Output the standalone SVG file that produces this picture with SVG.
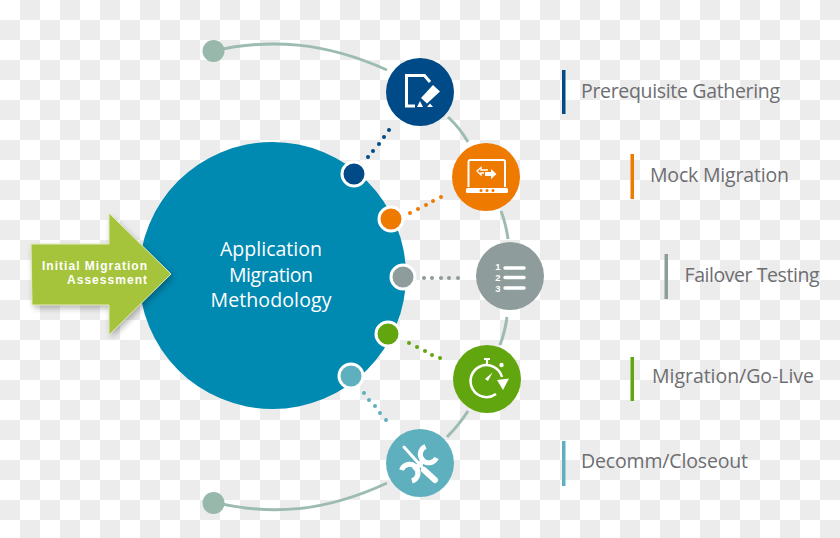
<svg xmlns="http://www.w3.org/2000/svg" width="840" height="538" viewBox="0 0 840 538">
<style>
.lbl{font-family:"Open Sans","Liberation Sans",sans-serif;font-size:19.500px;fill:#6d6e71}
.ctr{font-family:"Open Sans","Liberation Sans",sans-serif;font-size:19.500px;fill:#fff;text-anchor:middle}
.arw{font-family:"Liberation Sans",sans-serif;font-size:12px;font-weight:700;fill:#fff;text-anchor:end}
.num{font-family:"Liberation Sans",sans-serif;font-size:9.500px;font-weight:700;fill:#fff;text-anchor:middle}
.arc{fill:none;stroke:#9dbcb0;stroke-width:3}
.ico{fill:none;stroke:#fff;stroke-width:3}
.fil{fill:#fff}
.ring{stroke:#fff;stroke-width:3}
</style>
<defs>
<pattern id="chk" width="40" height="40" patternUnits="userSpaceOnUse">
<rect width="40" height="40" fill="#fff"/>
<rect x="20" width="20" height="20" fill="#ececec"/>
<rect y="20" width="20" height="20" fill="#ececec"/>
</pattern>
<filter id="shd" x="-20%" y="-20%" width="140%" height="150%">
<feGaussianBlur stdDeviation="3"/>
</filter>
</defs>
<rect width="840" height="538" fill="url(#chk)"/>

<g id="connectors">
<path class="arc" d="M213 51C270 38 325 42 387 70"/>
<path class="arc" d="M448 117Q460 128 468 142"/>
<path class="arc" d="M501 211Q506 224 508 239"/>
<path class="arc" d="M507 317Q505 332 500 345"/>
<path class="arc" d="M468 411Q459 425 447 437"/>
<path class="arc" d="M387 483C325 512 270 516 213 502"/>
<g fill="#004b87"><circle cx="389" cy="130" r="2"/><circle cx="384" cy="137" r="2"/><circle cx="379" cy="144" r="2"/><circle cx="373" cy="151" r="2"/><circle cx="368" cy="157" r="2"/></g>
<g fill="#ef7a00"><circle cx="441" cy="197" r="2"/><circle cx="433" cy="201" r="2"/><circle cx="426" cy="205" r="2"/><circle cx="418" cy="209" r="2"/><circle cx="410" cy="213" r="2"/></g>
<g fill="#8e9c9c"><circle cx="424" cy="278" r="2"/><circle cx="432" cy="278" r="2"/><circle cx="441" cy="278" r="2"/><circle cx="449" cy="278" r="2"/><circle cx="458" cy="278" r="2"/></g>
<g fill="#62a60f"><circle cx="409" cy="343" r="2"/><circle cx="417" cy="347" r="2"/><circle cx="425" cy="351" r="2"/><circle cx="432" cy="355" r="2"/><circle cx="440" cy="358" r="2"/></g>
<g fill="#5fb0be"><circle cx="364" cy="393" r="2"/><circle cx="369" cy="400" r="2"/><circle cx="375" cy="406" r="2"/><circle cx="380" cy="413" r="2"/><circle cx="386" cy="420" r="2"/></g>
</g>

<g id="end-top"><circle cx="213.500" cy="51" r="11" fill="#97b8aa"/></g>
<g id="end-bottom"><circle cx="213.500" cy="503" r="11" fill="#97b8aa"/></g>

<g id="hub">
<circle cx="272.500" cy="275.500" r="133.500" fill="#0089b1"/>
<text class="ctr" x="271" y="256" textLength="102">Application</text>
<text class="ctr" x="271" y="282" textLength="84">Migration</text>
<text class="ctr" x="271" y="307" textLength="121">Methodology</text>
</g>

<g id="assessment">
<path d="M33 247H111V217L173 277L111 338V308H34Z" fill="#000" opacity=".3" filter="url(#shd)"/>
<path d="M31 244H109V213L171 274L109 335V305H32Z" fill="#a5c43c" stroke="#e4edc0" stroke-width="1"/>
<text class="arw" x="147" y="269.500" textLength="105">Initial Migration</text>
<text class="arw" x="147" y="283.500" textLength="80">Assessment</text>
</g>

<g id="dot-blue"><circle class="ring" cx="354" cy="174" r="12" fill="#004b87"/></g>
<g id="dot-orange"><circle class="ring" cx="391" cy="219" r="12" fill="#ef7a00"/></g>
<g id="dot-gray"><circle class="ring" cx="403" cy="277" r="12" fill="#8e9c9c"/></g>
<g id="dot-green"><circle class="ring" cx="388" cy="334" r="12" fill="#62a60f"/></g>
<g id="dot-teal"><circle class="ring" cx="351" cy="376" r="12" fill="#5fb0be"/></g>

<g id="prerequisite">
<circle cx="420" cy="92" r="34" fill="#004b87"/>
<path class="ico" d="M415 106H406.500V75.500H424.500L430 82"/>
<path class="fil" d="M433 85L440 91.500L427 103.500L421 98Z"/>
<path class="fil" d="M420 101L423 107H417ZM427 107L430 103.500L433 107Z"/>
<rect x="562" y="70" width="3.500" height="44" fill="#004b87"/>
<text class="lbl" x="581" y="98" textLength="199">Prerequisite Gathering</text>
</g>

<g id="mock">
<circle cx="486" cy="177" r="34" fill="#ef7a00"/>
<path d="M468.500 187V162Q468.500 160 470.500 160H503Q505 160 505 162V187" fill="none" stroke="#fff" stroke-width="2"/>
<rect x="466" y="188" width="42" height="5" rx="1.500" class="fil"/>
<g fill="#ef7a00"><circle cx="481" cy="190.500" r="1.500"/><circle cx="487" cy="190.500" r="1.500"/><circle cx="493" cy="190.500" r="1.500"/></g>
<path class="fil" d="M485 172H491V169L496.500 174L491 179V176H485Z"/>
<path d="M488 170H481V167.500L477 171L481 175V173H484" fill="none" stroke="#fff" stroke-width="1.300"/>
<rect x="630.500" y="154" width="3.500" height="45" fill="#ef7a00"/>
<text class="lbl" x="650" y="182" textLength="139">Mock Migration</text>
</g>

<g id="failover">
<circle cx="510" cy="276" r="34" fill="#8e9c9c"/>
<text class="num" x="498" y="269.500">1</text>
<text class="num" x="498" y="280.500">2</text>
<text class="num" x="498" y="291.500">3</text>
<path d="M505 268H524M505 277.500H524M505 288H524" stroke="#fff" stroke-width="3.500" stroke-linecap="round" fill="none"/>
<rect x="664.500" y="254" width="3.500" height="45" fill="#8e9c9c"/>
<text class="lbl" x="684.500" y="282" textLength="135">Failover Testing</text>
</g>

<g id="golive">
<circle cx="487" cy="379" r="34" fill="#62a60f"/>
<path class="ico" style="stroke-width:2.500" d="M496 394A16 16 0 1 1 502 377"/>
<path class="fil" d="M497 380L509 378.500L503 390Z"/>
<path d="M487 364V360M484 359H490" stroke="#fff" stroke-width="2.200" fill="none"/>
<circle cx="501.500" cy="365" r="2.200" class="fil"/>
<path class="fil" d="M485 379L492.500 372.500L488 381Z"/>
<rect x="630.500" y="357" width="3.500" height="44" fill="#62a60f"/>
<text class="lbl" x="652" y="383" textLength="162">Migration/Go-Live</text>
</g>

<g id="decomm">
<circle cx="420" cy="463" r="34" fill="#5fb0be"/>
<path d="M404 447L422 467" stroke="#fff" stroke-width="3" stroke-linecap="round" fill="none"/>
<path d="M424 470L435 480" stroke="#fff" stroke-width="6" stroke-linecap="round" fill="none"/>
<path d="M425 459L414 470" stroke="#fff" stroke-width="5" fill="none"/>
<path class="ico" style="stroke-width:5" d="M425.500 446.500A8.500 8.500 0 1 0 436.500 458"/>
<path class="ico" style="stroke-width:5" d="M401.500 470A8.500 8.500 0 1 1 412 481"/>
<rect x="562" y="441" width="3.500" height="45" fill="#5fb0be"/>
<text class="lbl" x="581" y="468" textLength="167">Decomm/Closeout</text>
</g>
</svg>
